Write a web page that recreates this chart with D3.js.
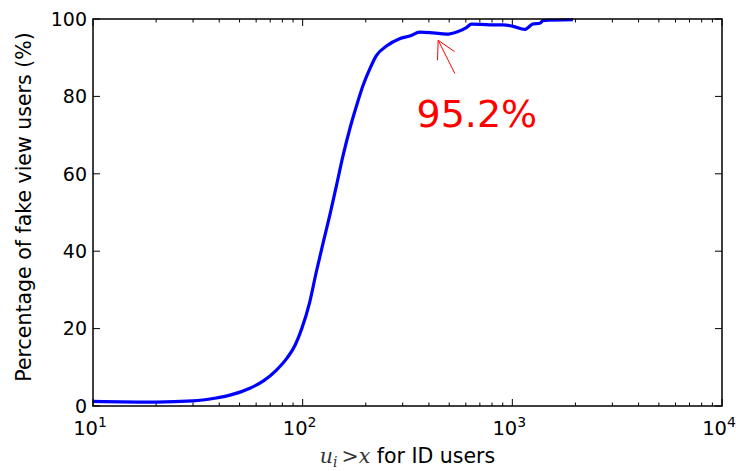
<!DOCTYPE html>
<html>
<head>
<meta charset="utf-8">
<script src="https://d3js.org/d3.v7.min.js"></script>
<style>
  body { margin: 0; background: #fff; }
  text { font-family: "DejaVu Sans", sans-serif; fill: #000; }
</style>
</head>
<body>
<svg id="chart" width="736" height="471"></svg>
<script>
// curve: x threshold (log) and percentage
var xValues = [10, 20, 30, 38, 45, 56, 65, 75, 84, 92, 99, 108, 116, 125, 135, 145, 156, 168, 181, 194, 209, 225, 251, 290, 324, 362, 419, 485, 551, 604, 638, 781, 904, 1009, 1147, 1190, 1252, 1353, 1400, 1945];
var yValues = [1.2, 1.0, 1.3, 2.0, 2.8, 4.6, 6.5, 9.3, 12.3, 15.7, 20, 26.8, 34.5, 42, 49.5, 57, 64.8, 71.7, 77.7, 82.8, 87.1, 90.6, 93, 94.9, 95.6, 96.6, 96.4, 96.1, 96.8, 97.8, 98.7, 98.5, 98.5, 98.1, 97.3, 97.8, 98.7, 98.9, 99.6, 99.8];

var yTicks = [0, 20, 40, 60, 80, 100];
var xMajor = [10, 100, 1000, 10000];
var xTickExp = ["1", "2", "3", "4"];

var annText = "95.2%";
var annTip = [443, 94.5];     // arrow tip (data coords)
var annTail = [532, 85.9];    // arrow tail
var annLabel = [349, 72];     // text start

var margin = {left: 93, top: 19, right: 14, bottom: 65};
var W = 736, H = 471;

var svg = d3.select("#chart");

var x = d3.scaleLog().domain([10, 10000]).range([margin.left, W - margin.right]);
var y = d3.scaleLinear().domain([0, 100]).range([H - margin.bottom, margin.top]);

var x0 = x.range()[0], x1 = x.range()[1], y0 = y.range()[0], y1 = y.range()[1];

// minor ticks
var xMinor = [];
[10, 100, 1000].forEach(function(d){
	for (var k = 2; k <= 9; k++) xMinor.push(d * k);
});

var ticks = svg.append("g").attr("stroke", "#000").attr("stroke-width", 1);

// x ticks (bottom + top, inward)
xMinor.forEach(function(d){
	ticks.append("line").attr("x1", x(d)).attr("x2", x(d)).attr("y1", y0).attr("y2", y0 - 3.5);
	ticks.append("line").attr("x1", x(d)).attr("x2", x(d)).attr("y1", y1).attr("y2", y1 + 3.5);
});
xMajor.forEach(function(d){
	ticks.append("line").attr("x1", x(d)).attr("x2", x(d)).attr("y1", y0).attr("y2", y0 - 7);
	ticks.append("line").attr("x1", x(d)).attr("x2", x(d)).attr("y1", y1).attr("y2", y1 + 7);
});
// y ticks (left + right, inward)
yTicks.forEach(function(d){
	ticks.append("line").attr("x1", x0).attr("x2", x0 + 7).attr("y1", y(d)).attr("y2", y(d));
	ticks.append("line").attr("x1", x1).attr("x2", x1 - 7).attr("y1", y(d)).attr("y2", y(d));
});

// data line
var line = d3.line()
	.x(function(d){ return x(d[0]); })
	.y(function(d){ return y(d[1]); })
	.curve(d3.curveMonotoneX);

svg.append("path")
	.datum(d3.zip(xValues, yValues))
	.attr("d", line)
	.attr("fill", "none")
	.attr("stroke", "#0000ff")
	.attr("stroke-width", 3.2)
	.attr("stroke-linejoin", "round");

// frame
svg.append("rect")
	.attr("x", x0).attr("y", y1)
	.attr("width", x1 - x0).attr("height", y0 - y1)
	.attr("fill", "none").attr("stroke", "#000").attr("stroke-width", 1.5);

// y tick labels
svg.selectAll(".ylab").data(yTicks).enter()
	.append("text")
	.attr("x", x0 - 6)
	.attr("y", function(d){ return y(d); })
	.attr("dy", "0.36em")
	.attr("text-anchor", "end")
	.style("font-size", "19px")
	.text(function(d){ return d; });

// x tick labels 10^n
xMajor.forEach(function(d, i){
	var t = svg.append("text")
		.attr("x", x(d) - 3)
		.attr("y", 435)
		.attr("text-anchor", "middle")
		.style("font-size", "19.5px");
	t.append("tspan").text("10");
	t.append("tspan").attr("dy", -8).style("font-size", "14px").text(xTickExp[i]);
});

// axis titles
svg.append("text")
	.attr("transform", "translate(31,207) rotate(-90)")
	.attr("text-anchor", "middle")
	.style("font-size", "20.5px")
	.text("Percentage of fake view users (%)");

var xl = svg.append("text")
	.attr("x", (x0 + x1) / 2)
	.attr("y", 463)
	.attr("text-anchor", "middle")
	.style("font-size", "20.5px");
xl.append("tspan").style("font-family", "DejaVu Serif").style("font-style", "italic").style("fill", "#333").text("u");
xl.append("tspan").style("font-family", "DejaVu Serif").style("font-style", "italic").style("fill", "#333").style("font-size", "14px").attr("dy", 4).text("i");
xl.append("tspan").style("font-family", "DejaVu Serif").style("fill", "#333").attr("dy", -4).attr("dx", 4).text(">");
xl.append("tspan").style("font-family", "DejaVu Serif").style("font-style", "italic").style("fill", "#333").text("x");
xl.append("tspan").text(" for ID users");

// annotation
var ann = svg.append("g").attr("stroke", "#ff0000").attr("stroke-width", 1).attr("fill", "none");
var tx = x(annTip[0]), ty = y(annTip[1]);
var sx = x(annTail[0]), sy = y(annTail[1]);
ann.append("line").attr("x1", sx).attr("y1", sy).attr("x2", tx).attr("y2", ty);
var ang = Math.atan2(sy - ty, sx - tx);
[-0.5, 0.5].forEach(function(a){
	ann.append("line")
		.attr("x1", tx).attr("y1", ty)
		.attr("x2", tx + 20 * Math.cos(ang + a))
		.attr("y2", ty + 20 * Math.sin(ang + a));
});

svg.append("text")
	.attr("x", x(annLabel[0]))
	.attr("y", y(annLabel[1]))
	.style("font-size", "38px")
	.style("fill", "#ff0000")
	.text(annText);
</script>
</body>
</html>
